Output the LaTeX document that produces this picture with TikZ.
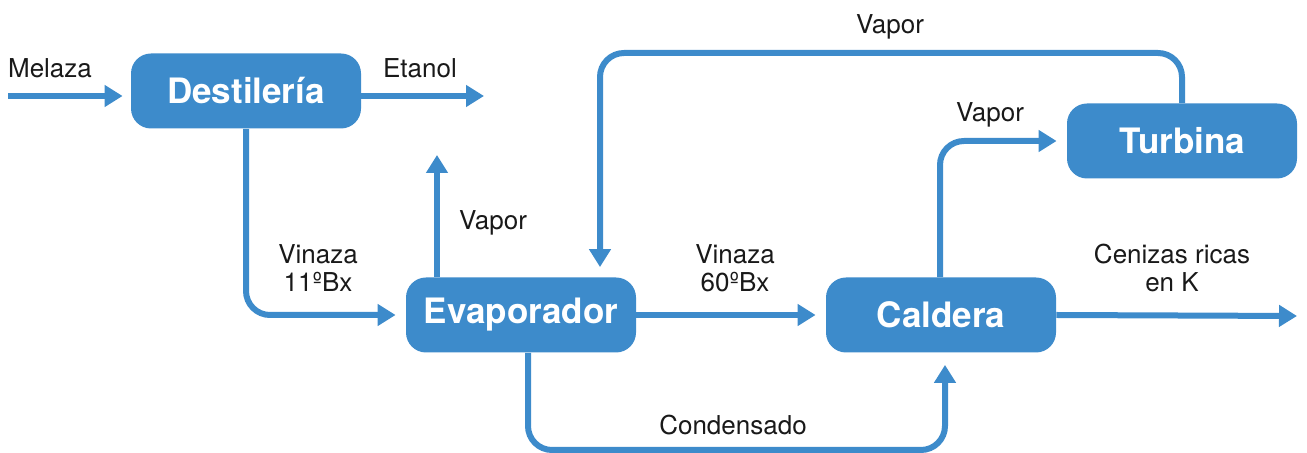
\documentclass[tikz,border=0pt]{standalone}
\usepackage{fontspec}
\setmainfont{TeX Gyre Heros}
\usetikzlibrary{arrows.meta}

\definecolor{procblue}{RGB}{61,139,203}

\tikzset{
  proc/.style={fill=procblue, text=white, rounded corners=10pt,
    minimum width=115pt, minimum height=37.5pt, inner sep=0pt,
    font=\fontsize{17.5}{20}\selectfont\bfseries},
  flow/.style={draw=procblue, line width=3pt, rounded corners=12pt,
    -{Triangle[length=9pt,width=10.5pt]}},
  lbl/.style={font=\fontsize{13}{14}\selectfont, align=center, text=black!90}
}

\begin{document}
\begin{tikzpicture}[x=0.5pt, y=-0.5pt]

\useasboundingbox (0,0) rectangle (1307,453);

% process boxes
\node[proc] (destileria) at (246, 91)   {Destiler\'ia};
\node[proc] (evaporador) at (521, 315)  {Evaporador};
\node[proc] (caldera)    at (941, 315)  {Caldera};
\node[proc] (turbina)    at (1182, 141) {Turbina};

% free ends
\coordinate (melaza) at (8, 96);
\coordinate (etanol) at (484, 96);
\coordinate (vapsal) at (437, 155);
\coordinate (ceniza) at (1297, 316);
\coordinate (arriba) at (600, 53);

% connectors
\draw[flow, shorten >=4pt] (melaza) -- (destileria.west |- melaza);
\draw[flow] (destileria.east |- etanol) -- (etanol);
\draw[flow, shorten >=5pt] (destileria.south) |- (evaporador.west);
\draw[flow] (evaporador.north -| vapsal) -- (vapsal);
\draw[flow, shorten >=5pt] (evaporador.east) -- (caldera.west);
\draw[flow, shorten >=6pt] (evaporador.south -| 528,0) -- (528,450) -| (caldera.south -| 945,0);
\draw[flow] (caldera.east) -- (ceniza);
\draw[flow, shorten >=5pt] (caldera.north -| 940,0) |- (turbina.west);
\draw[flow, shorten >=5pt] (turbina.north) |- (arriba) -- (evaporador.north -| arriba);

% labels
\node[lbl] (lmelaza) at (50, 68)    {Melaza};
\node[lbl] (letanol) at (420, 68)   {Etanol};
\node[lbl] (lvin11)  at (318, 268)  {Vinaza\\11ºBx};
\node[lbl] (lvapev)  at (493, 223)  {Vapor};
\node[lbl] (lvin60)  at (735, 268)  {Vinaza\\60ºBx};
\node[lbl] (lceniza) at (1172, 268) {Cenizas ricas\\en K};
\node[lbl] (lvapca)  at (990, 115)  {Vapor};
\node[lbl] (lvaptu)  at (890, 27)   {Vapor};
\node[lbl] (lconden) at (733, 425)  {Condensado};

\end{tikzpicture}
\end{document}
